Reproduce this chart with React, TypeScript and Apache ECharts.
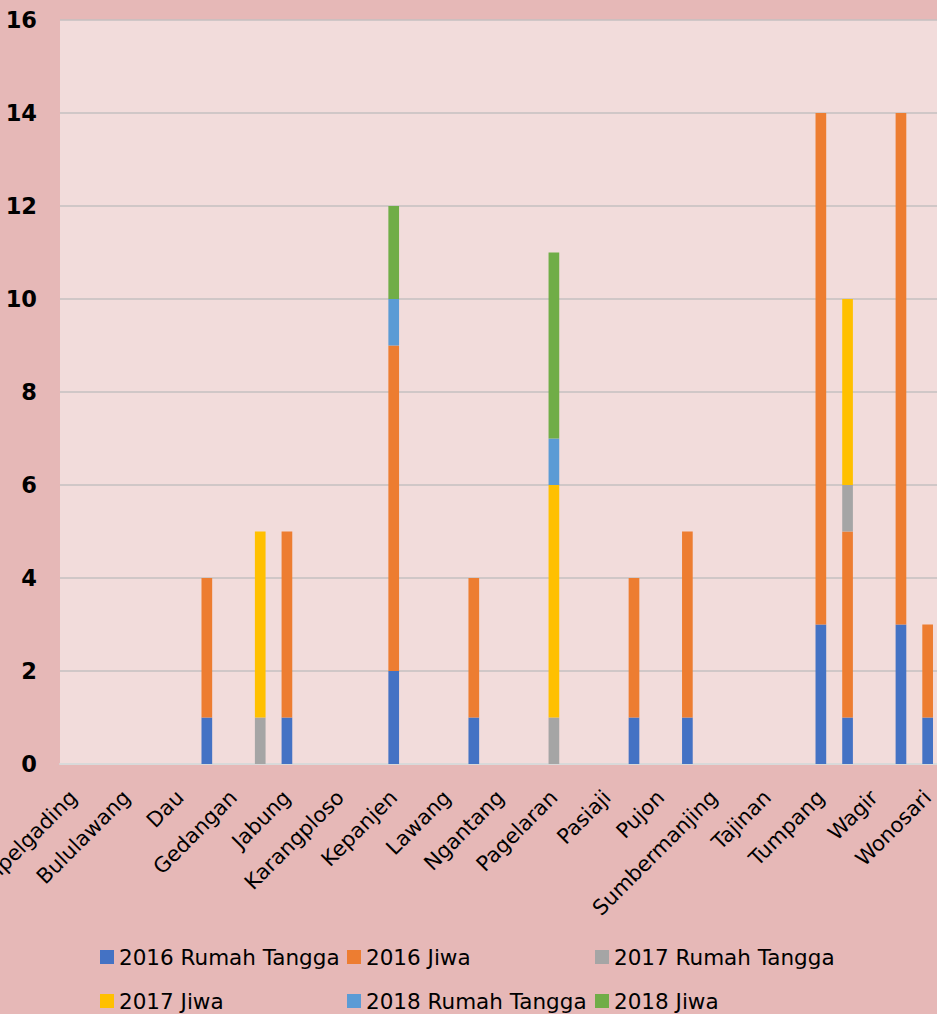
import React, { useEffect, useRef } from "react";
import * as echarts from "echarts";

const categories = [
  "Ampelgading", "Bantur", "Bululawang", "Dampit", "Dau", "Donomulyo", "Gedangan",
  "Gondanglegi", "Jabung", "Kalipare", "Karangploso", "Kasembon", "Kepanjen", "Kromengan",
  "Lawang", "Ngajum", "Ngantang", "Pagak", "Pagelaran", "Pakis", "Pasiaji", "Poncokusumo",
  "Pujon", "Singosari", "Sumbermanjing", "Sumberpucung", "Tajinan", "Tirtoyudo", "Tumpang",
  "Turen", "Wagir", "Wajak", "Wonosari",
];

const rt2016 = [0, 0, 0, 0, 0, 1, 0, 0, 1, 0, 0, 0, 2, 0, 0, 1, 0, 0, 0, 0, 0, 1, 0, 1, 0, 0, 0, 0, 3, 1, 0, 3, 1];
const jiwa2016 = [0, 0, 0, 0, 0, 3, 0, 0, 4, 0, 0, 0, 7, 0, 0, 3, 0, 0, 0, 0, 0, 3, 0, 4, 0, 0, 0, 0, 11, 4, 0, 11, 2];
const rt2017 = [0, 0, 0, 0, 0, 0, 0, 1, 0, 0, 0, 0, 0, 0, 0, 0, 0, 0, 1, 0, 0, 0, 0, 0, 0, 0, 0, 0, 0, 1, 0, 0, 0];
const jiwa2017 = [0, 0, 0, 0, 0, 0, 0, 4, 0, 0, 0, 0, 0, 0, 0, 0, 0, 0, 5, 0, 0, 0, 0, 0, 0, 0, 0, 0, 0, 4, 0, 0, 0];
const rt2018 = [0, 0, 0, 0, 0, 0, 0, 0, 0, 0, 0, 0, 1, 0, 0, 0, 0, 0, 1, 0, 0, 0, 0, 0, 0, 0, 0, 0, 0, 0, 0, 0, 0];
const jiwa2018 = [0, 0, 0, 0, 0, 0, 0, 0, 0, 0, 0, 0, 2, 0, 0, 0, 0, 0, 4, 0, 0, 0, 0, 0, 0, 0, 0, 0, 0, 0, 0, 0, 0];

const seriesNames = [
  "2016 Rumah Tangga", "2016 Jiwa", "2017 Rumah Tangga",
  "2017 Jiwa", "2018 Rumah Tangga", "2018 Jiwa",
];
const seriesData = [rt2016, jiwa2016, rt2017, jiwa2017, rt2018, jiwa2018];
const colors = ["#4472C4", "#ED7D31", "#A5A5A5", "#FFC000", "#5B9BD5", "#70AD47"];
const yTicks = [0, 2, 4, 6, 8, 10, 12, 14, 16];

const FONT = "DejaVu Sans";
const legendPos = [
  { left: 100, top: 946 },
  { left: 347, top: 946 },
  { left: 595, top: 946 },
  { left: 100, top: 990 },
  { left: 347, top: 990 },
  { left: 595, top: 990 },
];

export default function App() {
  const ref = useRef<HTMLDivElement>(null);
  useEffect(() => {
    if (!ref.current) return;
    const chart = echarts.init(ref.current, undefined, { renderer: "svg" });
    chart.setOption({
      animation: false,
      backgroundColor: "#E6B8B7",
      color: colors,
      grid: {
        left: 60,
        top: 20,
        width: 881,
        height: 744,
        containLabel: false,
        outerBoundsMode: "none",
        show: true,
        backgroundColor: "#F2DCDB",
        borderWidth: 0,
      },
      legend: seriesNames.map((n, i) => ({
        data: [n],
        left: legendPos[i].left,
        top: legendPos[i].top,
        icon: "rect",
        itemWidth: 14,
        itemHeight: 14,
        padding: 0,
        textStyle: { fontFamily: FONT, fontSize: 21.5, color: "#000" },
      })),
      xAxis: {
        type: "category",
        data: categories,
        axisLine: { lineStyle: { color: "#D9D9D9", width: 2 } },
        axisTick: { show: false },
        axisLabel: {
          interval: 1,
          rotate: 45,
          margin: 30,
          fontFamily: FONT,
          fontSize: 21,
          color: "#000",
        },
      },
      yAxis: {
        type: "value",
        min: yTicks[0],
        max: yTicks[yTicks.length - 1],
        interval: 2,
        axisLine: { show: false },
        axisTick: { show: false },
        splitLine: { lineStyle: { color: "#C4C0C0", width: 1.5 } },
        axisLabel: {
          fontFamily: FONT,
          fontWeight: "bold",
          fontSize: 22.5,
          color: "#000",
          margin: 23,
        },
      },
      series: seriesNames.map((n, i) => ({
        name: n,
        type: "bar",
        stack: "total",
        barWidth: "40%",
        data: seriesData[i],
        itemStyle: { color: colors[i] },
      })),
    });
    return () => chart.dispose();
  }, []);
  return (
    <div
      ref={ref}
      style={{ position: "absolute", left: 0, top: 0, width: 937, height: 1014 }}
    />
  );
}
